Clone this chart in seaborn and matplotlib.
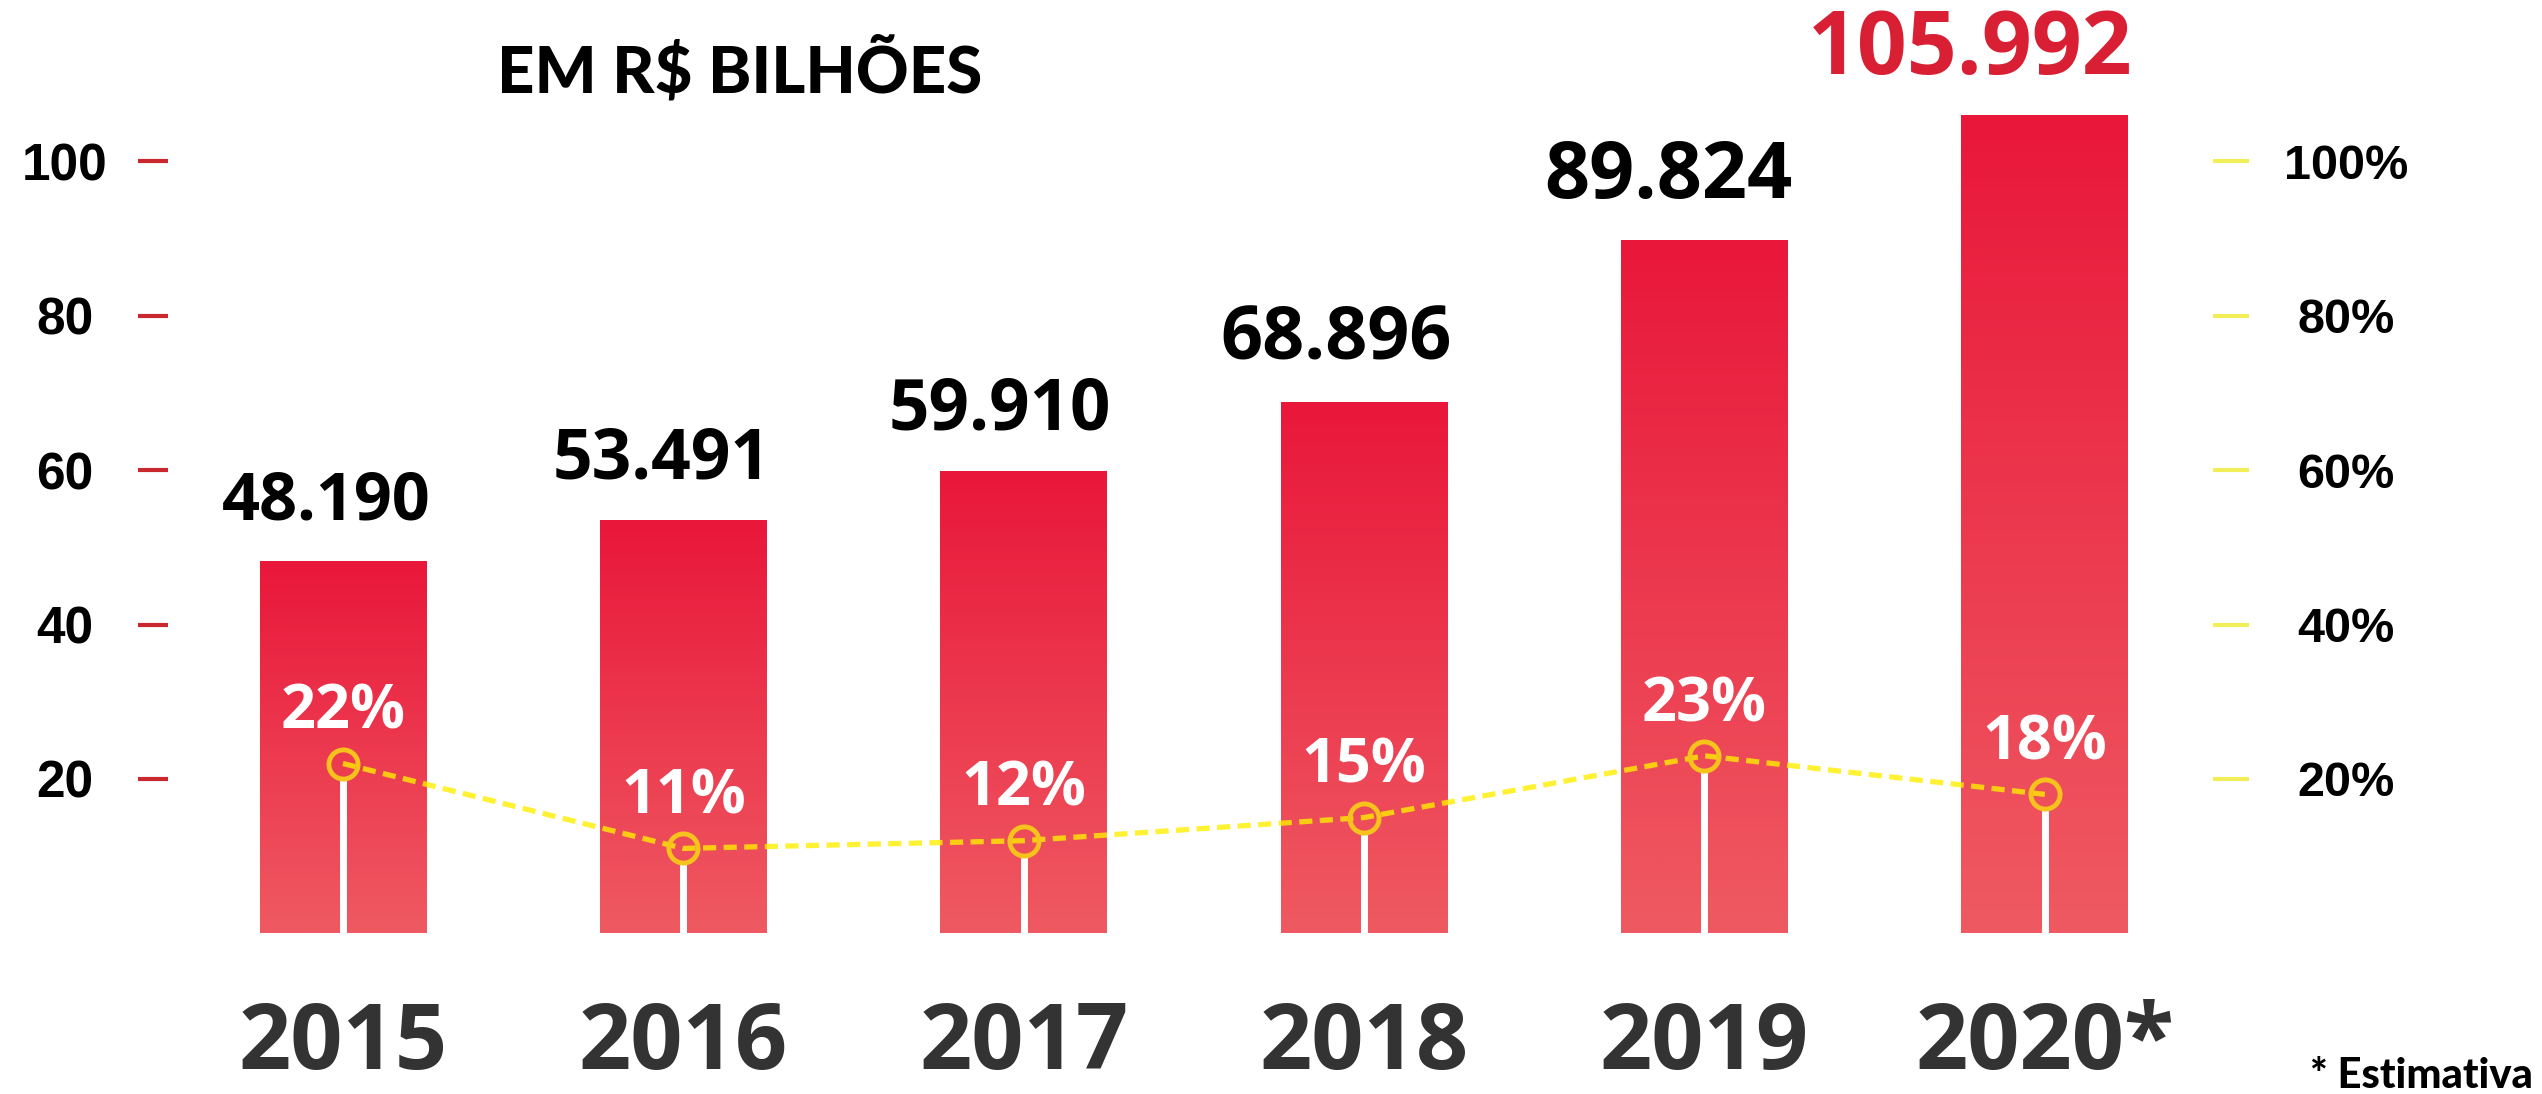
import numpy as np
import pandas as pd
import matplotlib
matplotlib.use("Agg")
import matplotlib.pyplot as plt
import seaborn as sns
from matplotlib.colors import LinearSegmentedColormap

# ---------------- data ----------------
anos = ['2015', '2016', '2017', '2018', '2019', '2020*']
faturamento = [48.190, 53.491, 59.910, 68.896, 89.824, 105.992]
rotulos_valor = ['48.190', '53.491', '59.910', '68.896', '89.824', '105.992']
crescimento = [22, 11, 12, 15, 23, 18]
rotulos_cresc = ['22%', '11%', '12%', '15%', '23%', '18%']
ticks_esq = [20, 40, 60, 80, 100]
rotulos_esq = ['20', '40', '60', '80', '100']
rotulos_dir = ['20%', '40%', '60%', '80%', '100%']
titulo = 'EM R$ BILHÕES'
nota = '* Estimativa'

# ---------------- style ----------------
sns.set_style('white')
plt.rcParams['font.family'] = ['Open Sans', 'DejaVu Sans']

W, H, DPI = 2542, 1094, 100
Y0, Y100 = 933.3, 161.5        # pixel rows of 0 and 100
YMAX = 118
px_per_unit = (Y0 - Y100) / 100
top_px = Y0 - YMAX * px_per_unit
XL, XR = 168, 2213

fig = plt.figure(figsize=(W / DPI, H / DPI), dpi=DPI)
fig.patch.set_facecolor('white')
ax = fig.add_axes([XL / W, 1 - Y0 / H, (XR - XL) / W, (Y0 - top_px) / H])

df = pd.DataFrame({'ano': anos, 'valor': faturamento})
sns.barplot(data=df, x='ano', y='valor', ax=ax, width=0.49, color='#EC2A40',
            saturation=1, linewidth=0, errorbar=None)

# gradient fill for each bar
cmap = LinearSegmentedColormap.from_list('barra', ['#E9173A', '#EF5A62'])
grad = np.linspace(0, 1, 256).reshape(-1, 1)
bars = list(ax.patches)
for p in bars:
    x0, y0, w, h = p.get_x(), p.get_y(), p.get_width(), p.get_height()
    im = ax.imshow(grad, cmap=cmap, extent=[x0, x0 + w, y0, y0 + h],
                   origin='upper', aspect='auto', zorder=p.get_zorder() + 0.1)
    im.set_clip_path(p)

ax.set_xlim(-0.514, 5.494)
ax.set_ylim(0, YMAX)
ax.set_xlabel('')
ax.set_ylabel('')
for s in ax.spines.values():
    s.set_visible(False)

# left axis ticks
ax.set_yticks(ticks_esq)
ax.set_yticklabels(rotulos_esq, ha='center', fontsize=37, fontweight='bold',
                   fontfamily=['Liberation Sans', 'DejaVu Sans'], color='black')
ax.tick_params(axis='y', left=True, length=21.6, width=3, color='#C8282E',
               pad=52.5, direction='out')

# year labels
ax.set_xticks(range(len(anos)))
ax.set_xticklabels(anos, fontsize=66, fontweight='bold', color='#333333')
ax.tick_params(axis='x', bottom=False, length=0, pad=47)

# value labels above bars
tamanhos = [48, 50, 51, 53, 57, 63]
cores = ['black', 'black', 'black', 'black', 'black', '#D91F33']
for p, v, lab, fs, c in zip(bars, faturamento, rotulos_valor, tamanhos, cores):
    ax.annotate(lab, xy=(p.get_x() + p.get_width(), v), xytext=(3, 30),
                textcoords='offset points', ha='right', va='baseline',
                fontsize=fs, fontweight='bold', color=c, zorder=5)

# right axis with growth line
ax2 = ax.twinx()
ax2.set_ylim(0, YMAX)
for s in ax2.spines.values():
    s.set_visible(False)
ax2.set_yticks(ticks_esq)
ax2.set_yticklabels(rotulos_dir, ha='center', fontsize=35, fontweight='bold',
                    fontfamily=['Liberation Sans', 'DejaVu Sans'], color='black')
ax2.tick_params(axis='y', right=True, left=False, length=26, width=3,
                color='#F2EE5A', pad=70, direction='out')
ax2.grid(False)

pos = np.arange(len(anos))
ms = 21
r_data = (ms / 2) * DPI / 72 / px_per_unit
ax2.vlines(pos, 0, np.array(crescimento) - r_data, color='white', lw=5, zorder=2)
sns.lineplot(x=pos, y=crescimento, ax=ax2, color='#FFEE00', alpha=0.8,
             linewidth=3.8, linestyle=(0, (2.5, 1.4)), zorder=3)
ax2.plot(pos, crescimento, 'o', ms=ms, mfc='none', mec='#F6C21C', mew=3.5, zorder=4)
ax2.set_xlim(-0.514, 5.494)
ax2.set_ylabel('')

for i, (c, lab) in enumerate(zip(crescimento, rotulos_cresc)):
    ax2.annotate(lab, xy=(i, c), xytext=(0, 25), textcoords='offset points',
                 ha='center', va='baseline', color='white', fontsize=44,
                 fontweight='bold', zorder=5)

# title and footnote
fig.text(740 / W, 1 - 93 / H, titulo, ha='center', va='baseline', fontsize=47,
         fontweight=900, family=['Lato', 'DejaVu Sans'], color='black',
         parse_math=False)
fig.text(2533 / W, 1 - 1088 / H, nota, ha='right', va='baseline', fontsize=30,
         fontweight=900, family=['Lato', 'DejaVu Sans'], color='black')

fig.savefig('out.png', dpi=DPI, facecolor='white')
